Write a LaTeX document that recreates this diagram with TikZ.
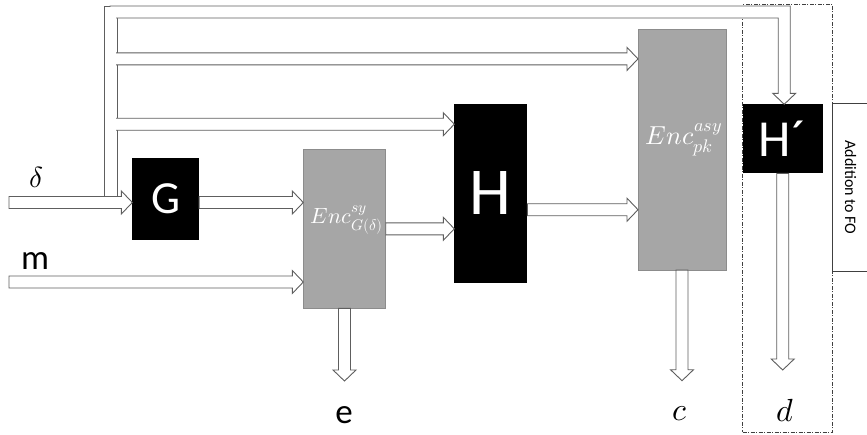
\documentclass[tikz,border=0pt]{standalone}
\usepackage{fontspec}
\usepackage{unicode-math}
\setmainfont{Carlito}
\usetikzlibrary{calc}

\definecolor{pipeline}{HTML}{5E5E5E}
\definecolor{encfill}{HTML}{A6A6A6}
\definecolor{encline}{HTML}{8C8C8C}
\definecolor{frameline}{HTML}{404040}

\tikzset{
  pipe/.style={fill=white, draw=pipeline, line width=0.9pt, line join=miter},
  blackbox/.style={fill=black, draw=none, text=white, inner sep=0pt, outer sep=0pt},
  encbox/.style={fill=encfill, draw=encline, line width=0.8pt, inner sep=0pt, outer sep=0pt},
  enctext/.style={text=white, inner sep=0pt},
  lbl/.style={inner sep=0pt, text=black},
  fsize/.style={font=\fontsize{#1}{#1}\selectfont},
  dashdotframe/.style={draw=frameline, line width=0.7pt,
    dash pattern=on 4pt off 1.5pt on 1pt off 1.5pt, inner sep=0pt, outer sep=0pt},
  sidebox/.style={draw=frameline, line width=0.8pt, inner sep=0pt}
}

% hollow block arrow, horizontal: #1 tail, #2 tip (same height as tail)
\newcommand\hpipe[2]{%
  \path[pipe] let \p1=(#1), \p2=(#2) in
    (\x1,\y1+6pt) -- (\x2-11pt,\y1+6pt) -- (\x2-11pt,\y1+11.5pt) -- (\x2,\y1)
    -- (\x2-11pt,\y1-11.5pt) -- (\x2-11pt,\y1-6pt) -- (\x1,\y1-6pt) -- cycle;}
% hollow block arrow pointing down: #1 tail, #2 tip
\newcommand\vpipe[2]{%
  \path[pipe] let \p1=(#1), \p2=(#2) in
    (\x1-6pt,\y1) -- (\x1-6pt,\y2+11pt) -- (\x1-11.5pt,\y2+11pt) -- (\x1,\y2)
    -- (\x1+11.5pt,\y2+11pt) -- (\x1+6pt,\y2+11pt) -- (\x1+6pt,\y1) -- cycle;}

\begin{document}
\begin{tikzpicture}[x=1pt,y=-1pt]
\useasboundingbox (0,0) rectangle (867,434);

% processing blocks
\node[encbox, minimum width=82.4pt, minimum height=159.3pt] (encsy) at (344.5,228.7) {};
\node[encbox, minimum width=88pt, minimum height=240.7pt] (encpk) at (682,149.7) {};
\node[enctext, fsize=22] (encsytxt) at (347,220) {$Enc^{sy}_{G(\delta)}$};
\node[enctext, fsize=26] (encpktxt) at (684,140) {$Enc^{asy}_{pk}$};
\node[blackbox, minimum width=66.7pt, minimum height=81.7pt, fsize=46] (G) at (165.7,199) {G};
\node[blackbox, minimum width=73pt, minimum height=178.4pt, fsize=67] (H) at (490.8,193.5) {H};
\node[blackbox, minimum width=80pt, minimum height=69pt, fsize=52] (Hp) at (782.7,138.8) {H´};

% FO extension frame and its caption box
\node[dashdotframe, minimum width=89.6pt, minimum height=427.6pt] (fo) at (787.5,218.5) {};
\node[sidebox, rotate=-90, minimum width=168.4pt, minimum height=37pt, fsize=16]
  (addfo) at (850.5,187.5) {Addition to FO};

% signal levels and free ends
\coordinate (yb2) at (0,58.9);
\coordinate (yb3) at (0,124.2);
\coordinate (yd) at (0,202.5);
\coordinate (ym) at (0,282);
\coordinate (ysh) at (0,228.8);
\coordinate (yhe) at (0,209.7);
\coordinate (din) at (9,202.5);
\coordinate (min) at (9,282);
\coordinate (busL) at (104,6);
\coordinate (busfoot) at (117,196.5);
\coordinate (busmid) at (110,0);
\coordinate (etip) at (344.5,381);
\coordinate (ctip) at (682,380.7);
\coordinate (dtip) at (782.7,370);

% distribution bus from the delta input
\path[pipe] (busL) rectangle (busfoot);
\path[pipe] let \p1=(busmid |- busL), \p2=($(Hp.north)+(1.5,0)$) in
  (\x1,\y1) -- (\x2+6pt,\y1) -- (\x2+6pt,\y2+11pt) -- (\x2+11.5pt,\y2+11pt) -- (\x2,\y2)
  -- (\x2-11.5pt,\y2+11pt) -- (\x2-6pt,\y2+11pt) -- (\x2-6pt,\y1-12pt) -- (\x1,\y1-12pt) -- cycle;
\hpipe{busmid |- yb2}{encpk.west |- yb2}
\hpipe{busmid |- yb3}{H.west |- yb3}
\fill[white] ($(busL)+(0.6,0.6)$) rectangle ($(busfoot)+(-0.6,-0.6)$);

% data flow
\hpipe{din}{G.west |- yd}
\hpipe{G.east |- yd}{encsy.west |- yd}
\hpipe{min}{encsy.west |- ym}
\hpipe{encsy.east |- ysh}{H.west |- ysh}
\hpipe{H.east |- yhe}{encpk.west |- yhe}
\vpipe{encsy.south}{etip}
\vpipe{encpk.south}{ctip}
\vpipe{Hp.south}{dtip}

% labels
\node[lbl, fsize=29] (dlt) at (36,177.5) {$\delta$};
\node[lbl, fsize=35] (mlbl) at (35,261.5) {m};
\node[lbl, fsize=35] (elbl) at (344,415) {e};
\node[lbl, fsize=32] (clbl) at (680,414) {$c$};
\node[lbl, fsize=32] (dlbl) at (785,411) {$d$};
\end{tikzpicture}
\end{document}
